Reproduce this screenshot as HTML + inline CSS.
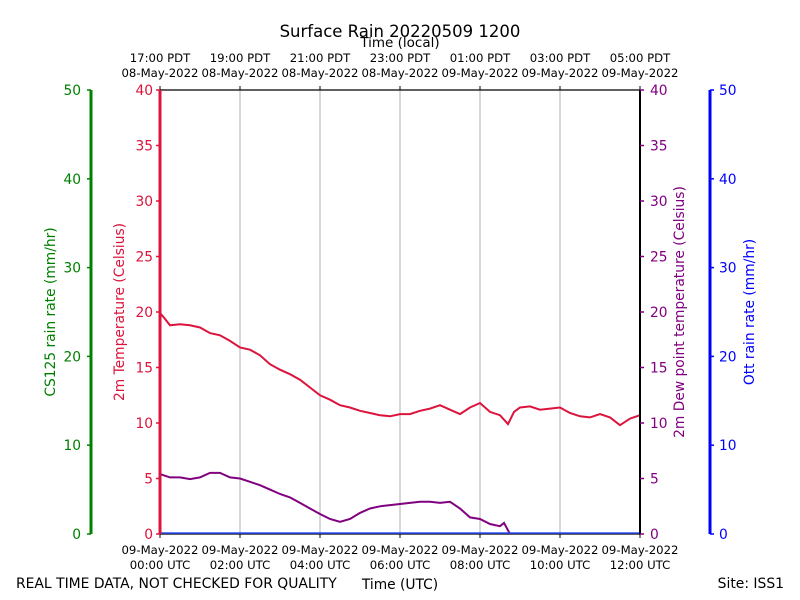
<!DOCTYPE html>
<html><head><meta charset="utf-8"><style>
body{margin:0;background:#fff;}
svg{display:block;font-family:"DejaVu Sans","Liberation Sans",sans-serif;}
</style></head><body>
<svg id="chart" width="800" height="600" viewBox="0 0 800 600">
<text x="400" y="37" font-size="16.5" text-anchor="middle">Surface Rain 20220509 1200</text>
<text x="400" y="47" font-size="13.5" text-anchor="middle">Time (local)</text>
<text x="400" y="589" font-size="13.8" text-anchor="middle">Time (UTC)</text>
<text x="16" y="588" font-size="13.9">REAL TIME DATA, NOT CHECKED FOR QUALITY</text>
<text x="784" y="588" font-size="13.9" text-anchor="end">Site: ISS1</text>
<g id="grid"></g><g id="series"></g><g id="axes"></g>
</svg>
<script>
const hours = [0,0.1,0.25,0.5,0.75,1,1.25,1.5,1.75,2,2.25,2.5,2.75,3,3.25,3.5,3.75,4,4.25,4.5,4.75,5,5.25,5.5,5.75,6,6.25,6.5,6.75,7,7.25,7.5,7.75,8,8.25,8.5,8.7,8.85,9,9.25,9.5,9.75,10,10.25,10.5,10.75,11,11.25,11.5,11.75,12];
const tempC = [19.9,19.5,18.8,18.9,18.8,18.6,18.1,17.9,17.4,16.8,16.6,16.1,15.3,14.8,14.4,13.9,13.2,12.5,12.1,11.6,11.4,11.1,10.9,10.7,10.6,10.8,10.8,11.1,11.3,11.6,11.2,10.8,11.4,11.8,11.0,10.7,9.9,11.0,11.4,11.5,11.2,11.3,11.4,10.9,10.6,10.5,10.8,10.5,9.8,10.4,10.7];
const dewHours = [0,0.25,0.5,0.75,1,1.25,1.5,1.75,2,2.25,2.5,2.75,3,3.25,3.5,3.75,4,4.25,4.5,4.75,5,5.25,5.5,5.75,6,6.25,6.5,6.75,7,7.25,7.5,7.75,8,8.25,8.5,8.6,8.75];
const dewC = [5.4,5.1,5.1,4.95,5.1,5.5,5.5,5.1,5.0,4.7,4.4,4.0,3.6,3.3,2.8,2.3,1.8,1.35,1.1,1.35,1.9,2.3,2.5,2.6,2.7,2.8,2.9,2.9,2.8,2.9,2.3,1.5,1.35,0.9,0.7,1.0,0];
const rainHours = [0,12];
const rainRate = [0,0];
const utcTicks = ["00:00","02:00","04:00","06:00","08:00","10:00","12:00"];
const utcDates = ["09-May-2022","09-May-2022","09-May-2022","09-May-2022","09-May-2022","09-May-2022","09-May-2022"];
const localTicks = ["17:00 PDT","19:00 PDT","21:00 PDT","23:00 PDT","01:00 PDT","03:00 PDT","05:00 PDT"];
const localDates = ["08-May-2022","08-May-2022","08-May-2022","08-May-2022","09-May-2022","09-May-2022","09-May-2022"];
const tempTicks = [0,5,10,15,20,25,30,35,40];
const rainTicks = [0,10,20,30,40,50];

const X0=160,X1=640,Y0=534,Y1=90;
const x = h => X0 + h/12*(X1-X0);
const yT = v => Y0 - v/40*(Y0-Y1);
const yR = v => Y0 - v/50*(Y0-Y1);
const NS="http://www.w3.org/2000/svg";
function mk(parent,tag,attrs,text){const e=document.createElementNS(NS,tag);for(const k in attrs)e.setAttribute(k,attrs[k]);if(text!==undefined)e.textContent=text;document.getElementById(parent).appendChild(e);return e;}

utcTicks.forEach((t,i)=>{
  const xx=x(i*2);
  if(i>0&&i<6){const g=mk('grid','line',{x1:xx,x2:xx,y1:Y1,y2:Y0,stroke:'#b0b0b0','stroke-width':1});
  
  }
  mk('axes','line',{x1:xx,x2:xx,y1:Y0,y2:Y0+4,stroke:'#000'});
  mk('axes','line',{x1:xx,x2:xx,y1:Y1,y2:Y1-4,stroke:'#000'});
  const a=mk('axes','text',{x:xx,y:554,'font-size':11.7,'text-anchor':'middle'},utcDates[i]);
  
  
  const b=mk('axes','text',{x:xx,y:569,'font-size':11.7,'text-anchor':'middle'},t+" UTC");
  
  
  const c=mk('axes','text',{x:xx,y:62,'font-size':11.7,'text-anchor':'middle'},localTicks[i]);
  
  
  const d=mk('axes','text',{x:xx,y:77,'font-size':11.7,'text-anchor':'middle'},localDates[i]);
  
  
});

function path(xs,ys,fy){return xs.map((h,i)=>(i?'L':'M')+x(h).toFixed(1)+','+fy(ys[i]).toFixed(1)).join('');}
const dl=mk('series','path',{d:path(dewHours,dewC,yT),stroke:'#800080',fill:'none','stroke-width':2});


const tl=mk('series','path',{d:path(hours,tempC,yT),stroke:'#dc143c',fill:'none','stroke-width':2});



mk('axes','line',{x1:X0,x2:X1,y1:Y1,y2:Y1,stroke:'#000','stroke-width':1.2});
mk('axes','line',{x1:X0,x2:X1,y1:Y0,y2:Y0,stroke:'#000','stroke-width':1.2});
const rl=mk('axes','path',{d:path(rainHours,rainRate,yR),stroke:'#3050ff',fill:'none','stroke-width':1.5,transform:'translate(0,-1)'});


mk('axes','line',{x1:X0,x2:X0,y1:Y1,y2:Y0,stroke:'#dc143c','stroke-width':3});
mk('axes','line',{x1:X1,x2:X1,y1:Y1,y2:Y0,stroke:'#000','stroke-width':2});
mk('axes','line',{x1:91,x2:91,y1:Y1,y2:Y0,stroke:'#008000','stroke-width':3});
mk('axes','line',{x1:710,x2:710,y1:Y1,y2:Y0,stroke:'#0000ff','stroke-width':3});

tempTicks.forEach(v=>{
  const yy=yT(v);
  mk('axes','line',{x1:X0-4,x2:X0,y1:yy,y2:yy,stroke:'#dc143c','stroke-width':1.5});
  const l=mk('axes','text',{x:X0-7,y:yy+5,'font-size':13.8,'text-anchor':'end',fill:'#dc143c'},v);
  
  
  mk('axes','line',{x1:X1,x2:X1+4,y1:yy,y2:yy,stroke:'#800080','stroke-width':1.5});
  const r=mk('axes','text',{x:X1+10,y:yy+5,'font-size':13.8,fill:'#800080'},v);
  
  
});
rainTicks.forEach(v=>{
  const yy=yR(v);
  mk('axes','line',{x1:87,x2:91,y1:yy,y2:yy,stroke:'#008000','stroke-width':1.5});
  const l=mk('axes','text',{x:81,y:yy+5,'font-size':13.8,'text-anchor':'end',fill:'#008000'},v);
  
  
  mk('axes','line',{x1:710,x2:714,y1:yy,y2:yy,stroke:'#0000ff','stroke-width':1.5});
  const r=mk('axes','text',{x:719,y:yy+5,'font-size':13.8,fill:'#0000ff'},v);
  
  
});
function vlabel(xx,txt,col,name){const t=mk('axes','text',{x:xx,y:312,'font-size':13.8,'text-anchor':'middle',fill:col,transform:`rotate(-90 ${xx} 312)`},txt);

}
vlabel(55,'CS125 rain rate (mm/hr)','#008000','cs125-axis-title');
vlabel(124,'2m Temperature (Celsius)','#dc143c','temp-axis-title');
vlabel(684,'2m Dew point temperature (Celsius)','#800080','dewpoint-axis-title');
vlabel(754,'Ott rain rate (mm/hr)','#0000ff','ott-axis-title');
</script>
</body></html>
